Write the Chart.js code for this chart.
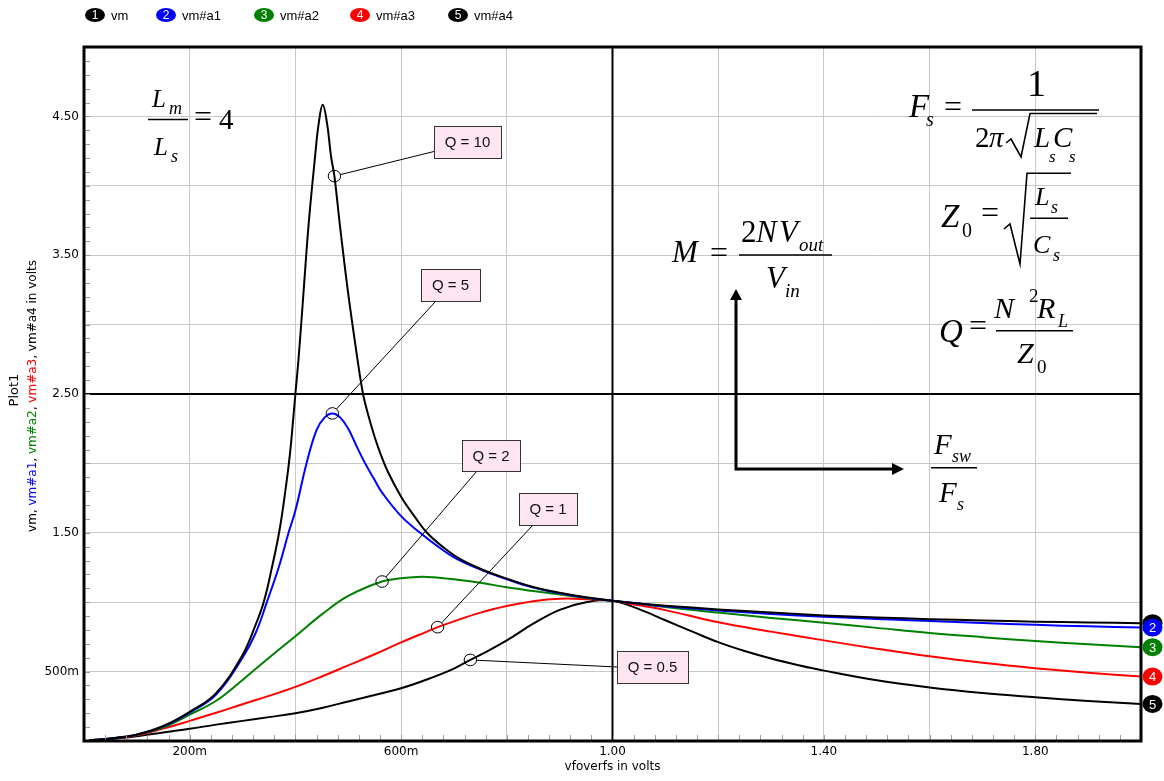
<!DOCTYPE html>
<html>
<head>
<meta charset="utf-8">
<script src="https://cdn.jsdelivr.net/npm/chart.js@4.4.1/dist/chart.umd.min.js"></script>
<style>
html, body { margin: 0; padding: 0; background: #ffffff; }
canvas { display: block; }
</style>
</head>
<body>
<canvas id="plot" width="1164" height="781"></canvas>
<script>
// LLC gain curves: normalised frequency Fsw/Fs against gain M, one pair of arrays per load Q
const vmFreq = [0.01,0.05,0.1,0.15,0.2,0.25,0.3,0.325,0.34,0.355,0.37,0.383,0.39,0.3956,0.4,0.4063,0.4157,0.4252,0.4372,0.4441,0.4517,0.4599,0.4675,0.4738,0.4838,0.499,0.5167,0.528,0.537,0.55,0.56,0.575,0.6,0.625,0.649,0.68,0.712,0.76,0.8,0.85,0.9,0.95,1.0,1.05,1.1,1.2,1.3,1.4,1.5,1.6,1.7,1.8,1.9,2.0];
const vmGain = [0.005,0.018,0.047,0.108,0.21,0.345,0.62,0.84,1.0,1.24,1.52,1.86,2.08,2.31,2.5,2.77,3.25,3.73,4.21,4.45,4.584,4.45,4.21,4.07,3.73,3.25,2.77,2.5,2.36,2.19,2.08,1.94,1.76,1.62,1.5,1.395,1.31,1.225,1.17,1.11,1.068,1.035,1.01,0.99,0.975,0.948,0.926,0.905,0.89,0.878,0.868,0.86,0.854,0.849];

const vmA1Freq = [0.01,0.05,0.1,0.15,0.2,0.25,0.3,0.325,0.346,0.37,0.387,0.4,0.421,0.44,0.455,0.47,0.485,0.5,0.515,0.532,0.55,0.564,0.6,0.636,0.67,0.706,0.76,0.8,0.85,0.9,0.95,1.0,1.05,1.1,1.2,1.3,1.4,1.5,1.6,1.7,1.8,1.9,2.0];
const vmA1Gain = [0.005,0.018,0.046,0.105,0.205,0.335,0.6,0.78,1.0,1.27,1.5,1.66,2.0,2.24,2.33,2.36,2.33,2.25,2.13,2.0,1.88,1.79,1.62,1.5,1.4,1.31,1.22,1.165,1.105,1.065,1.033,1.01,0.99,0.97,0.94,0.915,0.896,0.879,0.864,0.85,0.837,0.826,0.817];

const vmA2Freq = [0.01,0.05,0.1,0.15,0.2,0.25,0.3,0.35,0.4,0.45,0.5,0.564,0.6,0.63,0.66,0.7,0.75,0.8,0.85,0.9,0.95,1.0,1.05,1.1,1.2,1.3,1.4,1.5,1.6,1.7,1.8,1.9,2.0];
const vmA2Gain = [0.005,0.018,0.044,0.098,0.19,0.29,0.44,0.6,0.755,0.912,1.045,1.149,1.172,1.182,1.18,1.165,1.14,1.107,1.08,1.055,1.03,1.01,0.99,0.965,0.925,0.887,0.852,0.815,0.778,0.748,0.72,0.697,0.676];

const vmA3Freq = [0.01,0.05,0.1,0.15,0.2,0.25,0.3,0.35,0.4,0.45,0.5,0.55,0.6,0.65,0.669,0.7,0.75,0.8,0.85,0.9,0.95,1.0,1.05,1.1,1.2,1.3,1.4,1.5,1.6,1.7,1.8,1.9,2.0];
const vmA3Gain = [0.005,0.017,0.042,0.09,0.145,0.203,0.265,0.325,0.39,0.465,0.545,0.625,0.71,0.79,0.82,0.862,0.925,0.972,1.007,1.025,1.022,1.01,0.978,0.943,0.855,0.788,0.725,0.665,0.61,0.564,0.525,0.492,0.464];

const vmA4Freq = [0.01,0.05,0.1,0.15,0.2,0.25,0.3,0.35,0.4,0.45,0.5,0.55,0.6,0.65,0.7,0.731,0.75,0.8,0.85,0.9,0.95,1.0,1.05,1.1,1.15,1.2,1.25,1.3,1.35,1.4,1.5,1.6,1.7,1.8,1.9,2.0];
const vmA4Gain = [0.004,0.014,0.034,0.062,0.088,0.118,0.145,0.172,0.2,0.238,0.285,0.332,0.38,0.445,0.522,0.584,0.62,0.725,0.845,0.945,1.0,1.01,0.95,0.87,0.79,0.712,0.648,0.594,0.548,0.507,0.437,0.385,0.345,0.315,0.288,0.267];

const seriesLabels = ['vm', 'vm#a1', 'vm#a2', 'vm#a3', 'vm#a4'];
const seriesColors = ['#000000', '#0000ff', '#008000', '#ff0000', '#000000'];

// Q tag of each curve and the curve point it points at
const qTags = ['Q = 10', 'Q = 5', 'Q = 2', 'Q = 1', 'Q = 0.5'];
const tagFreq = [0.4738, 0.47, 0.564, 0.669, 0.731];
const tagGain = [4.07, 2.36, 1.149, 0.82, 0.584];

const xTickValues = [0.2, 0.6, 1.0, 1.4, 1.8];
const xTickLabels = ['200m', '600m', '1.00', '1.40', '1.80'];
const yTickValues = [0.5, 1.5, 2.5, 3.5, 4.5];
const yTickLabels = ['500m', '1.50', '2.50', '3.50', '4.50'];

const freqs = [vmFreq, vmA1Freq, vmA2Freq, vmA3Freq, vmA4Freq];
const gains = [vmGain, vmA1Gain, vmA2Gain, vmA3Gain, vmA4Gain];

// ---- layout of the decorations (canvas pixels) ----
const tagBoxes = [
  { x: 434, y: 126, w: 67, h: 32, ax: 434, ay: 151.5 },
  { x: 421, y: 269, w: 59, h: 32, ax: 436, ay: 301 },
  { x: 462, y: 440, w: 58, h: 31, ax: 477, ay: 471 },
  { x: 519, y: 493, w: 58, h: 32, ax: 533, ay: 525 },
  { x: 617, y: 651, w: 71, h: 32, ax: 617, ay: 667 }
];
const legendX = [95, 166, 264, 360, 458];

const SERIF = '"Liberation Serif", "Times New Roman", serif';
const SANS = '"Liberation Sans", Arial, sans-serif';
const DEJAVU = '"DejaVu Sans", sans-serif';

// formula pieces: [text, x, baseline, size, italic]
const formulaText = [
  // Lm / Ls = 4
  ['L', 152, 107, 25, true], ['m', 169, 114, 18, true],
  ['L', 154, 155, 25, true], ['s', 171, 162, 18, true],
  ['=', 194, 127, 32, false], ['4', 219, 129, 29, false],
  // Fs = 1 / (2 pi sqrt(Ls Cs))
  ['F', 909, 116.7, 33, true], ['s', 926, 126, 20, true],
  ['=', 944, 117, 32, false],
  ['1', 1027, 96, 38, false],
  ['2', 975, 146.7, 29, false], ['\u03C0', 989, 146.7, 29, true],
  ['L', 1034, 146.7, 29, true], ['C', 1053, 146.7, 29, true],
  ['s', 1049, 161.5, 17, true], ['s', 1069, 161.5, 17, true],
  // Z0 = sqrt(Ls / Cs)
  ['Z', 941, 226.7, 33, true], ['0', 962, 236.7, 20, false],
  ['=', 981, 223, 32, false],
  ['L', 1035, 205, 26, true], ['s', 1051, 213, 18, true],
  ['C', 1033, 253.3, 26, true], ['s', 1053, 261, 18, true],
  // Q = N^2 RL / Z0
  ['Q', 939, 341.7, 33, true], ['=', 969, 336, 32, false],
  ['N', 994, 318.3, 30, true], ['2', 1029, 302, 19, false],
  ['R', 1037, 318.3, 30, true], ['L', 1058, 327, 18, true],
  ['Z', 1017, 363.3, 30, true], ['0', 1037, 373, 19, false],
  // M = 2 N Vout / Vin
  ['M', 672, 261.7, 31, true], ['=', 710, 263, 32, false],
  ['2', 741, 241.7, 31, false], ['N', 756, 241.7, 31, true],
  ['V', 779, 241.7, 31, true], ['out', 799, 250.7, 19, true],
  ['V', 766, 288.3, 31, true], ['in', 785, 297.3, 19, true],
  // Fsw / Fs
  ['F', 934, 454, 29, true], ['sw', 952, 461.7, 18, true],
  ['F', 939, 501.7, 29, true], ['s', 957, 510, 18, true]
];
// fraction bars: [x0, x1, y]
const formulaBars = [
  [148, 188, 119.5], [972, 1099, 110], [1030, 1068, 218.3],
  [996, 1073, 330.7], [739, 832, 255], [931, 977, 467.7]
];
// radical signs as polylines
const radicals = [
  [[1006, 143], [1011, 139], [1021, 157], [1030, 113.5], [1097, 113.5]],
  [[1004, 229], [1010, 224], [1020, 264], [1027, 173.3], [1071, 173.3]]
];

function pickLabel(values, labels, v) {
  const i = values.findIndex(t => Math.abs(t - v) < 1e-6);
  return i < 0 ? '' : labels[i];
}

const decor = {
  id: 'decor',
  beforeDatasetsDraw(chart) {
    const { ctx, chartArea: a, scales: { x, y } } = chart;
    ctx.save();
    ctx.strokeStyle = '#000';
    ctx.lineWidth = 2;
    const vx = x.getPixelForValue(1.0);
    const hy = y.getPixelForValue(2.5);
    ctx.beginPath();
    ctx.moveTo(vx, a.top); ctx.lineTo(vx, a.bottom);
    ctx.moveTo(a.left, hy); ctx.lineTo(a.right, hy);
    ctx.stroke();
    ctx.restore();
  },
  afterDraw(chart) {
    const { ctx, chartArea: a, scales: { x, y } } = chart;
    ctx.save();

    // minor ticks inside the frame
    ctx.strokeStyle = '#9a9a9a';
    ctx.lineWidth = 1;
    ctx.beginPath();
    for (let k = 1; k < 50; k++) {
      const px = Math.round(x.getPixelForValue(k * 0.04)) + 0.5;
      ctx.moveTo(px, a.bottom); ctx.lineTo(px, a.bottom - 6);
      const py = Math.round(y.getPixelForValue(k * 0.1)) + 0.5;
      ctx.moveTo(a.left, py); ctx.lineTo(a.left + 6, py);
    }
    ctx.stroke();

    // frame
    ctx.strokeStyle = '#000';
    ctx.lineWidth = 3;
    ctx.strokeRect(a.left, a.top, a.right - a.left, a.bottom - a.top);

    // arrows of the M / (Fsw/Fs) sketch
    ctx.lineWidth = 3;
    ctx.beginPath();
    ctx.moveTo(736, 296); ctx.lineTo(736, 469); ctx.lineTo(895, 469);
    ctx.stroke();
    ctx.fillStyle = '#000';
    ctx.beginPath();
    ctx.moveTo(736, 289); ctx.lineTo(730, 300); ctx.lineTo(742, 300); ctx.closePath();
    ctx.moveTo(904, 469); ctx.lineTo(892, 463); ctx.lineTo(892, 475); ctx.closePath();
    ctx.fill();

    // formulas
    ctx.textAlign = 'left';
    ctx.textBaseline = 'alphabetic';
    formulaText.forEach(([s, px, py, size, it]) => {
      ctx.font = (it ? 'italic ' : '') + size + 'px ' + SERIF;
      ctx.fillText(s, px, py);
    });
    ctx.lineWidth = 1.6;
    ctx.beginPath();
    formulaBars.forEach(([x0, x1, yy]) => { ctx.moveTo(x0, yy); ctx.lineTo(x1, yy); });
    ctx.stroke();
    ctx.lineWidth = 1.6;
    radicals.forEach(pts => {
      ctx.beginPath();
      pts.forEach((p, i) => i ? ctx.lineTo(p[0], p[1]) : ctx.moveTo(p[0], p[1]));
      ctx.stroke();
    });

    // Q tags: ring on the curve, leader, label box
    qTags.forEach((txt, i) => {
      const cx = x.getPixelForValue(tagFreq[i]);
      const cy = y.getPixelForValue(tagGain[i]);
      const b = tagBoxes[i];
      const dx = b.ax - cx, dy = b.ay - cy, d = Math.hypot(dx, dy);
      ctx.strokeStyle = '#000';
      ctx.lineWidth = 1;
      ctx.beginPath();
      ctx.moveTo(cx + dx / d * 6, cy + dy / d * 6);
      ctx.lineTo(b.ax, b.ay);
      ctx.stroke();
      ctx.beginPath();
      ctx.ellipse(cx, cy, 6.2, 5.8, 0, 0, Math.PI * 2);
      ctx.stroke();
      ctx.fillStyle = '#ffe5f1';
      ctx.fillRect(b.x, b.y, b.w, b.h);
      ctx.strokeStyle = '#333';
      ctx.strokeRect(b.x + 0.5, b.y + 0.5, b.w, b.h);
      ctx.fillStyle = '#111';
      ctx.font = '15px ' + SANS;
      ctx.textAlign = 'center';
      ctx.textBaseline = 'middle';
      ctx.fillText(txt, b.x + b.w / 2, b.y + b.h / 2 + 1);
    });

    // numbered end markers on the right edge
    seriesLabels.forEach((lab, i) => {
      const g = gains[i];
      const py = y.getPixelForValue(g[g.length - 1]);
      const px = a.right + 11.5;
      ctx.fillStyle = seriesColors[i];
      ctx.beginPath();
      ctx.ellipse(px, py, 10, 9, 0, 0, Math.PI * 2);
      ctx.fill();
      ctx.fillStyle = '#fff';
      ctx.font = '13px ' + SANS;
      ctx.textAlign = 'center';
      ctx.textBaseline = 'middle';
      ctx.fillText(String(i + 1), px, py + 1);
    });

    // legend row
    seriesLabels.forEach((lab, i) => {
      const cx = legendX[i];
      ctx.fillStyle = seriesColors[i];
      ctx.beginPath();
      ctx.ellipse(cx, 15, 10, 7, 0, 0, Math.PI * 2);
      ctx.fill();
      ctx.fillStyle = '#fff';
      ctx.font = '12px ' + SANS;
      ctx.textAlign = 'center';
      ctx.textBaseline = 'middle';
      ctx.fillText(String(i + 1), cx, 16);
      ctx.fillStyle = '#000';
      ctx.font = '13px ' + SANS;
      ctx.textAlign = 'left';
      ctx.fillText(lab, cx + 16, 16);
    });

    // y axis title, coloured per series, and the plot name
    const parts = [];
    seriesLabels.forEach((lab, i) => {
      if (i) parts.push([', ', '#000']);
      parts.push([lab, seriesColors[i]]);
    });
    parts.push([' in volts', '#000']);
    ctx.font = '12px ' + DEJAVU;
    const total = parts.reduce((s, p) => s + ctx.measureText(p[0]).width, 0);
    const midY = (a.top + a.bottom) / 2;
    ctx.save();
    ctx.translate(33, midY + 2);
    ctx.rotate(-Math.PI / 2);
    ctx.textAlign = 'left';
    ctx.textBaseline = 'middle';
    let run = -total / 2;
    parts.forEach(([s, c]) => {
      ctx.fillStyle = c;
      ctx.fillText(s, run, 0);
      run += ctx.measureText(s).width;
    });
    ctx.restore();
    ctx.save();
    ctx.translate(15, midY - 4);
    ctx.rotate(-Math.PI / 2);
    ctx.fillStyle = '#000';
    ctx.font = '13px ' + DEJAVU;
    ctx.textAlign = 'center';
    ctx.textBaseline = 'middle';
    ctx.fillText('Plot1', 0, 0);
    ctx.restore();

    ctx.restore();
  }
};

const datasets = seriesLabels.map((lab, i) => ({
  label: lab,
  data: freqs[i].map((f, k) => ({ x: f, y: gains[i][k] })),
  borderColor: seriesColors[i],
  backgroundColor: seriesColors[i],
  borderWidth: 2,
  pointRadius: 0,
  fill: false,
  tension: 0.4
}));

const tickFont = { family: DEJAVU, size: 12 };

new Chart(document.getElementById('plot'), {
  type: 'line',
  data: { datasets },
  options: {
    responsive: false,
    animation: false,
    devicePixelRatio: 1,
    layout: { padding: { top: 47, right: 23, left: 0, bottom: 0 } },
    plugins: { legend: { display: false }, tooltip: { enabled: false } },
    scales: {
      x: {
        type: 'linear', min: 0, max: 2,
        afterFit(s) { s.height = 40; },
        grid: { color: '#c8c8c8', lineWidth: 1, drawTicks: false },
        border: { display: false },
        ticks: {
          stepSize: 0.2, autoSkip: false, maxRotation: 0, padding: 4,
          color: '#000', font: tickFont,
          callback: v => pickLabel(xTickValues, xTickLabels, v)
        },
        title: {
          display: true, text: 'vfoverfs in volts', color: '#000',
          font: tickFont, padding: { top: 0, bottom: 7 }
        }
      },
      y: {
        type: 'linear', min: 0, max: 5,
        afterFit(s) { s.width = 84; },
        grid: { color: '#c8c8c8', lineWidth: 1, drawTicks: false },
        border: { display: false },
        ticks: {
          stepSize: 0.5, autoSkip: false, padding: 5,
          color: '#000', font: tickFont,
          callback: v => pickLabel(yTickValues, yTickLabels, v)
        }
      }
    }
  },
  plugins: [decor]
});
</script>
</body>
</html>
